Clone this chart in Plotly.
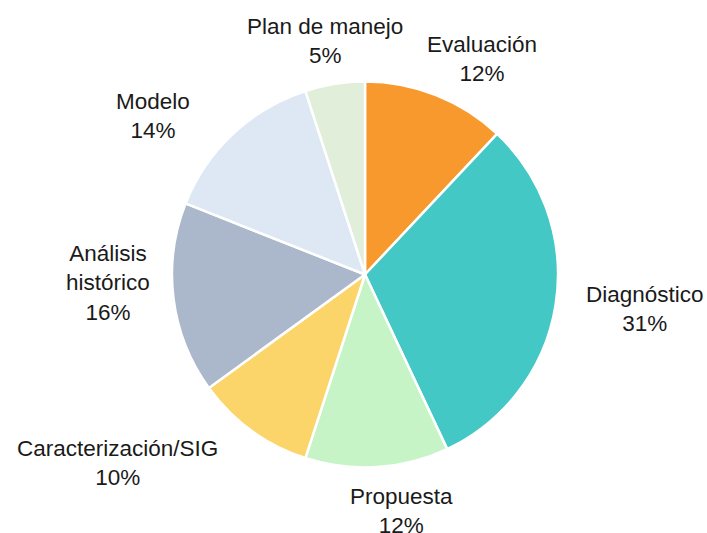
import math
import plotly.graph_objects as go

# Share of work by project phase
phases = ["Evaluación", "Diagnóstico", "Propuesta", "Caracterización/SIG",
          "Análisis histórico", "Modelo", "Plan de manejo"]
display_names = ["Evaluación", "Diagnóstico", "Propuesta", "Caracterización/SIG",
                 "Análisis<br>histórico", "Modelo", "Plan de manejo"]
shares = [12, 31, 12, 10, 16, 14, 5]
colors = ["#F7992C", "#43C8C6", "#C6F4C6", "#FBD56A",
          "#ABB7CA", "#DEE8F5", "#E1EEDA"]

W, H = 707, 533
cx, cy, r = 365, 274.5, 193  # pie centre and radius in pixels

# Label placement: distance from the centre (px) and an angular nudge (deg)
# applied to each slice's mid-angle.
label_layout = {
    "Evaluación": (245, 6.9),
    "Diagnóstico": (282, -2.0),
    "Propuesta": (239, -5.3),
    "Caracterización/SIG": (311, 16.8),
    "Análisis histórico": (257, 5.2),
    "Modelo": (265, -10.1),
    "Plan de manejo": (237, -0.6),
}

fig = go.Figure(go.Pie(
    labels=phases,
    values=shares,
    textinfo="none",
    sort=False,
    direction="clockwise",
    rotation=0,
    marker=dict(colors=colors, line=dict(color="white", width=2.5)),
    hoverinfo="label+percent",
    showlegend=False,
    domain=dict(x=[(cx - r) / W, (cx + r) / W],
                y=[(H - cy - r) / H, (H - cy + r) / H]),
))

total = sum(shares)
cum = 0
annotations = []
for name, shown, v in zip(phases, display_names, shares):
    mid = (cum + v / 2) / total * 360.0  # clockwise from 12 o'clock
    cum += v
    dist, nudge = label_layout[name]
    a = math.radians(mid + nudge)
    px = cx + dist * math.sin(a)
    py = cy - dist * math.cos(a)
    annotations.append(dict(
        x=px / W, y=1 - py / H, xref="paper", yref="paper",
        text=f"{shown}<br>{round(v / total * 100)}%",
        showarrow=False, xanchor="center", yanchor="middle", align="center",
        font=dict(family="Liberation Sans, Arial, sans-serif", size=22.5, color="#1a1a1a"),
    ))

fig.update_layout(
    width=W, height=H,
    margin=dict(l=0, r=0, t=0, b=0),
    paper_bgcolor="white",
    plot_bgcolor="white",
    annotations=annotations,
)

fig.write_html("out.html")
